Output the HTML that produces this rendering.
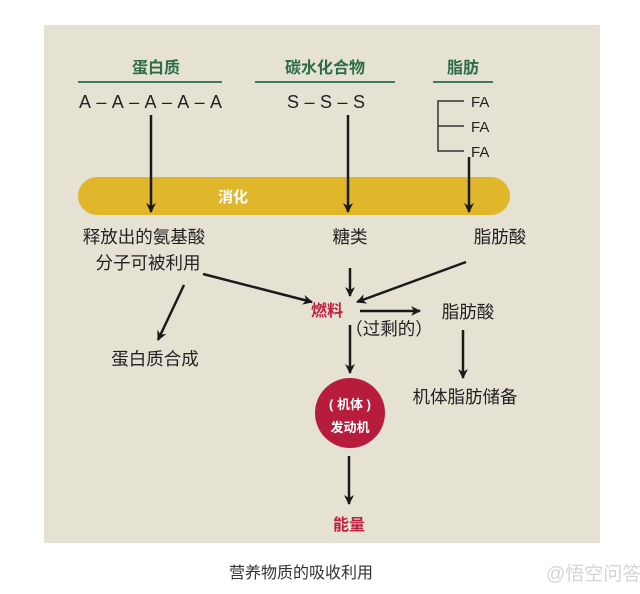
<!DOCTYPE html>
<html><head><meta charset="utf-8"><style>
body{margin:0;width:640px;height:594px;background:#fff;overflow:hidden;font-family:"Liberation Sans","Noto Sans CJK SC",sans-serif}
svg{position:absolute;left:0;top:0}
</style></head><body>
<svg width="640" height="594" viewBox="0 0 640 594" font-family="Liberation Sans, Noto Sans CJK SC, sans-serif">
<defs><marker id="a" markerWidth="10" markerHeight="10" refX="9" refY="5" orient="auto" markerUnits="userSpaceOnUse"><path d="M0,0 L10,5 L0,10 L3,5 z" fill="#1a1a1a"/></marker></defs>
<rect x="44" y="25" width="556" height="518" fill="#e6e2d3"/>
<g fill="#2e6b4a" font-weight="bold" font-size="16" text-anchor="middle">
<text x="156" y="73">蛋白质</text><text x="325" y="73">碳水化合物</text><text x="463" y="73">脂肪</text></g>
<g stroke="#3f7a60" stroke-width="2"><line x1="78" y1="82" x2="222" y2="82"/><line x1="255" y1="82" x2="395" y2="82"/><line x1="433" y1="82" x2="493" y2="82"/></g>
<g fill="#222" font-size="18"><text x="79" y="108" textLength="143" lengthAdjust="spacing">A–A–A–A–A</text><text x="287" y="108" textLength="78" lengthAdjust="spacing">S–S–S</text></g>
<g fill="#222" font-size="15"><text x="471" y="107">FA</text><text x="471" y="132">FA</text><text x="471" y="157">FA</text></g>
<path d="M464,101 H438 V151 H464 M438,126 H464" stroke="#333" stroke-width="1.5" fill="none"/>
<rect x="78" y="177" width="432" height="38" rx="19" fill="#e0b72a"/>
<text x="233" y="202" fill="#fff" font-weight="bold" font-size="15" text-anchor="middle">消化</text>
<g stroke="#1a1a1a" stroke-width="2.5" marker-end="url(#a)">
<line x1="151" y1="115" x2="151" y2="212"/><line x1="348" y1="115" x2="348" y2="212"/><line x1="469" y1="157" x2="469" y2="212"/>
<line x1="203" y1="274" x2="312" y2="302"/><line x1="350" y1="268" x2="350" y2="296"/><line x1="466" y1="262" x2="357" y2="302"/>
<line x1="360" y1="311" x2="420" y2="311"/><line x1="184" y1="285" x2="158" y2="340"/>
<line x1="350" y1="325" x2="350" y2="373"/><line x1="463" y1="330" x2="463" y2="378"/><line x1="349" y1="456" x2="349" y2="504"/>
</g>
<g fill="#222" font-size="17.5" text-anchor="middle">
<text x="144" y="243">释放出的氨基酸</text><text x="148" y="269">分子可被利用</text>
<text x="350" y="243">糖类</text><text x="500" y="243">脂肪酸</text>
<text x="468" y="318">脂肪酸</text><text x="389" y="335">（过剩的）</text>
<text x="155" y="365">蛋白质合成</text><text x="465" y="403">机体脂肪储备</text></g>
<text x="327" y="316" fill="#c02040" font-weight="bold" font-size="16" text-anchor="middle">燃料</text>
<circle cx="350" cy="413" r="35" fill="#b81c3c"/>
<g fill="#fff" font-weight="bold" font-size="13" text-anchor="middle"><text x="350" y="409">( 机体 )</text><text x="350" y="432">发动机</text></g>
<text x="349" y="530" fill="#c02040" font-weight="bold" font-size="16" text-anchor="middle">能量</text>
<text x="301" y="578" fill="#333" font-size="16" text-anchor="middle">营养物质的吸收利用</text>
<text x="546" y="580" fill="#d4d4d4" font-size="19">@悟空问答</text>
</svg>
</body></html>
